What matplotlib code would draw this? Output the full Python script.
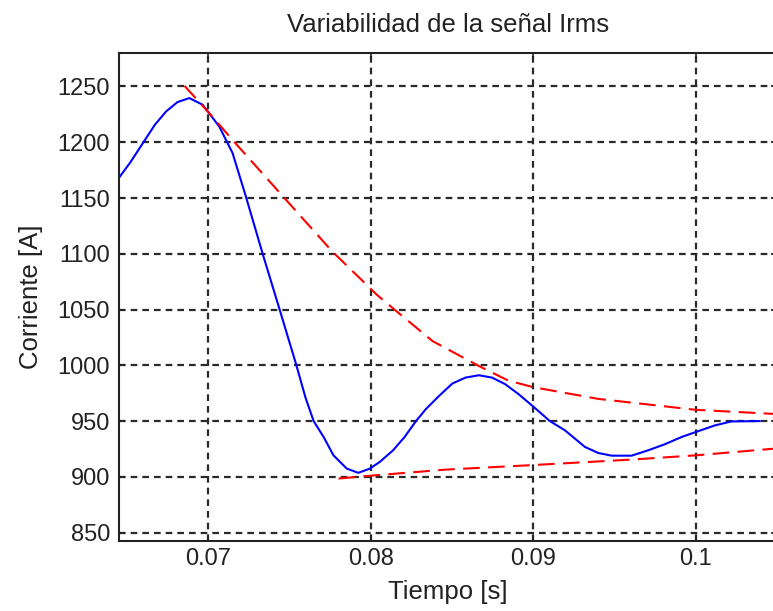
import matplotlib
matplotlib.use("Agg")
import matplotlib.pyplot as plt

plt.rcParams['font.family'] = ['Liberation Sans', 'DejaVu Sans']
plt.rcParams['lines.scale_dashes'] = False

# señal Irms (azul)
t_irms = [0.06448, 0.06520, 0.06597, 0.06670, 0.06740, 0.06810, 0.06883, 0.06965,
          0.07067, 0.07149, 0.07231, 0.07333, 0.07436, 0.07540, 0.07598, 0.07648,
          0.07710, 0.07770, 0.07852, 0.07923, 0.07994, 0.08055, 0.08136, 0.08207,
          0.08278, 0.08339, 0.08421, 0.08502, 0.08583, 0.08665, 0.08746, 0.08827,
          0.08909, 0.09000, 0.09102, 0.09195, 0.09318, 0.09400, 0.09482, 0.09605,
          0.09707, 0.09809, 0.09912, 0.10000, 0.10117, 0.10219, 0.10393]
i_irms = [1167.8, 1182.0, 1199.2, 1215.5, 1227.6, 1236.0, 1239.6, 1233.6,
          1214.1, 1190.3, 1151.3, 1100.6, 1051.3, 1001.0, 971.0, 950.0,
          935.6, 919.3, 907.4, 903.6, 907.4, 913.4, 923.7, 935.6,
          950.0, 960.8, 972.7, 983.7, 989.0, 991.1, 989.0, 983.1,
          974.2, 963.0, 950.0, 941.7, 926.8, 921.4, 919.0, 919.0,
          923.8, 929.2, 935.7, 940.2, 946.1, 949.7, 950.0]

# envolvente superior (rojo)
t_sup = [0.06853, 0.07006, 0.07149, 0.07487, 0.07763, 0.08039, 0.08172, 0.0838,
         0.08665, 0.08846, 0.09000, 0.09400, 0.10000, 0.10500]
i_sup = [1250.6, 1226.0, 1202.0, 1146.9, 1102.0, 1063.0, 1046.8, 1021.7,
         999.4, 986.3, 980.4, 969.9, 960.1, 956.3]

# envolvente inferior (rojo)
t_inf = [0.07801, 0.08035, 0.08461, 0.09000, 0.09605, 0.10000, 0.10500]
i_inf = [898.5, 901.5, 906.5, 910.6, 915.5, 919.3, 925.5]

xticks = [0.07, 0.08, 0.09, 0.1]
xtick_labels = ['0.07', '0.08', '0.09', '0.1']
yticks = [850, 900, 950, 1000, 1050, 1100, 1150, 1200, 1250]

fig = plt.figure(figsize=(7.73, 6.11), dpi=100)
ax = fig.add_axes([119 / 773, 70 / 611, 658 / 773, 488 / 611])

ax.plot(t_irms, i_irms, color='#0000ff', lw=1.5)
ax.plot(t_sup, i_sup, color='#ff0000', lw=1.5, linestyle=(0, (12, 6)))
ax.plot(t_inf, i_inf, color='#ff0000', lw=1.5, linestyle=(0, (12, 6)))

ax.set_xlim(0.0645, 0.105)
ax.set_ylim(842.5, 1280)
ax.set_xticks(xticks)
ax.set_xticklabels(xtick_labels)
ax.set_yticks(yticks)

ax.grid(True, color='#2a2a2a', lw=1.6, linestyle=(0, (4.8, 3.6)))
ax.set_axisbelow(True)

for s in ax.spines.values():
    s.set_linewidth(1.5)
    s.set_color('#222222')

ax.tick_params(direction='in', length=4.5, width=1.2, top=True, right=True,
               labelsize=17, colors='#222222')
ax.tick_params(axis='x', pad=5)
ax.tick_params(axis='y', pad=6.5)

ax.set_title('Variabilidad de la señal Irms', fontsize=18.5, pad=15, color='#222222')
ax.set_xlabel('Tiempo [s]', fontsize=18.5, color='#222222')
ax.set_ylabel('Corriente [A]', fontsize=18.5, color='#222222')
ax.xaxis.set_label_coords(0.5, -0.080)
ax.yaxis.set_label_coords(-0.1155, 0.5)

fig.savefig('out.png', dpi=100)
